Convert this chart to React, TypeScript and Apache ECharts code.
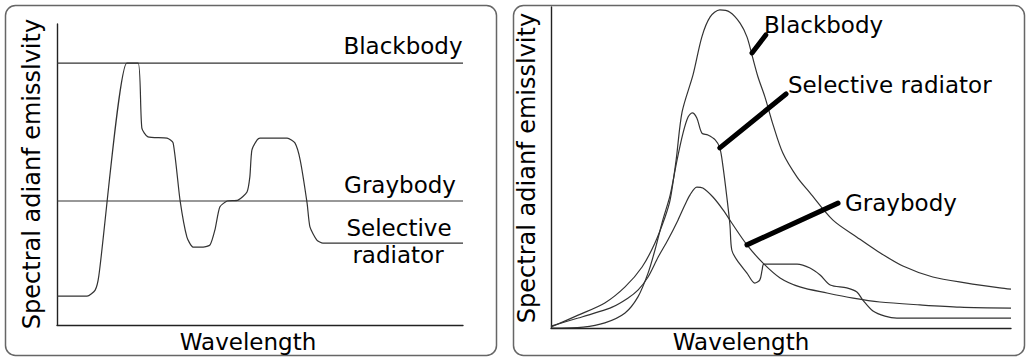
import React, { useEffect, useRef } from "react";
import * as echarts from "echarts";

// ---- Left panel (normalised 0-100 units) ----
const leftBlackbodyY = 87.0;
const leftGraybodyY = 41.2;
const leftSelX = [0, 7.4, 9.4, 10.3, 17.2, 20.0, 20.9, 22.4, 27.1, 28.6, 30.3, 32.0, 33.5, 36.0, 37.7, 38.9, 40.1, 41.9, 44.6, 46.8, 47.5, 48.0, 49.3, 50.0, 56.7, 58.6, 59.9, 61.6, 62.3, 64.0, 65.5, 100];
const leftSelY = [9.6, 9.6, 11.6, 16.3, 87.0, 87.0, 65.4, 62.5, 62.1, 60.5, 41.5, 29.2, 25.9, 25.9, 26.6, 31.6, 39.2, 41.2, 41.5, 44.2, 49.2, 58.1, 61.5, 62.1, 62.1, 60.5, 54.8, 40.5, 32.6, 28.2, 27.2, 27.2];

// ---- Right panel (normalised 0-100 units) ----
const rightBbX = [0, 5.9, 11.7, 16.1, 19.8, 22.6, 24.8, 25.9, 27.2, 28.5, 30.9, 32.8, 34.6, 36.7, 38.9, 41.1, 42.6, 43.7, 45.0, 46.5, 48.3, 50.4, 53.5, 56.3, 61.3, 66.5, 70.9, 76.5, 83.0, 90.4, 97.6, 100];
const rightBbY = [0.3, 4.0, 7.8, 12.8, 19.0, 26.5, 34.6, 39.9, 52.3, 67.3, 79.0, 90.7, 96.9, 99.1, 98.4, 95.0, 90.7, 85.0, 78.2, 72.0, 63.2, 54.5, 47.0, 42.1, 33.6, 28.3, 24.0, 19.3, 15.9, 14.0, 12.5, 12.1];

const rightSelX = [0, 7.0, 11.7, 16.1, 18.9, 21.1, 22.6, 24.3, 25.9, 27.4, 28.7, 29.8, 30.7, 31.7, 32.8, 34.1, 35.7, 36.7, 37.4, 38.3, 38.9, 39.3, 40.4, 42.6, 44.3, 45.4, 45.9, 46.3, 53.5, 56.3, 58.5, 60.7, 64.3, 66.5, 67.8, 70.0, 72.6, 75.2, 100];
const rightSelY = [0, 0.3, 1.6, 4.7, 9.7, 17.1, 24.3, 33.6, 41.4, 52.3, 60.7, 65.7, 67.0, 65.4, 60.7, 60.1, 58.6, 56.1, 50.2, 39.9, 32.1, 24.3, 21.2, 17.1, 14.0, 15.0, 18.1, 19.9, 19.9, 18.7, 16.5, 13.4, 12.5, 11.2, 8.7, 5.3, 3.7, 3.1, 3.1];

const rightGrayX = [0, 5.9, 9.6, 13.3, 16.7, 18.9, 21.1, 23.3, 25.4, 27.6, 29.1, 30.2, 31.7, 33.0, 35.2, 37.4, 39.3, 42.6, 46.1, 49.8, 54.1, 60.0, 65.7, 71.5, 80.2, 88.9, 100];
const rightGrayY = [0.6, 3.1, 4.7, 6.5, 9.3, 11.8, 15.9, 22.1, 27.4, 33.6, 38.3, 41.4, 43.9, 43.6, 40.8, 36.8, 32.7, 25.9, 20.2, 15.6, 12.8, 10.9, 9.3, 8.1, 7.2, 6.5, 6.2];

// leader lines [x1, y1, x2, y2]
const leaderBlackbody = [43.7, 85.7, 46.7, 91.3];
const leaderSelective = [36.7, 56.1, 51.1, 72.9];
const leaderGraybody = [42.6, 25.9, 62.4, 38.9];

const yTitle = "Spectral adianf emisslvity";
const xTitle = "Wavelength";

const zip = (xs: number[], ys: number[]) => xs.map((x, i) => [x, ys[i]]);

const FONT = "DejaVu Sans";
const CURVE = { color: "#333", width: 1.2 };

export default function App() {
  const ref = useRef<HTMLDivElement>(null);
  useEffect(() => {
    if (!ref.current) return;
    const chart = echarts.init(ref.current, null, { renderer: "svg" });
    const axisLine = { show: true, lineStyle: { color: "#222", width: 1.4 } };
    const baseX = (gridIndex: number) => ({
      type: "value", gridIndex, min: 0, max: 100,
      axisLine, axisTick: { show: false }, axisLabel: { show: false }, splitLine: { show: false },
    });
    const baseY = (gridIndex: number) => ({
      type: "value", gridIndex, min: 0, max: 100,
      axisLine, axisTick: { show: false }, axisLabel: { show: false }, splitLine: { show: false },
    });
    const line = (xi: number, data: number[][], smooth: number | boolean, style = CURVE) => ({
      type: "line", xAxisIndex: xi, yAxisIndex: xi, data, smooth,
      showSymbol: false, symbol: "none", silent: true,
      lineStyle: style,
    });
    const leader = (l: number[]) => line(1, [[l[0], l[1]], [l[2], l[3]]], false, { color: "#000", width: 5, cap: "round" } as any);
    const txt = (text: string, x: number, y: number, align: string, size = 23, rot = 0) => ({
      type: "text", x, y, rotation: rot,
      style: { text, fontFamily: FONT, fontSize: size, fill: "#000", align, verticalAlign: "middle" },
    });
    chart.setOption({
      animation: false,
      grid: [
        { left: 57, top: 24, width: 406, height: 301 },
        { left: 551, top: 7, width: 460, height: 321 },
      ],
      xAxis: [baseX(0), baseX(1)],
      yAxis: [baseY(0), baseY(1)],
      series: [
        line(0, [[0, leftBlackbodyY], [100, leftBlackbodyY]], false),
        line(0, [[0, leftGraybodyY], [100, leftGraybodyY]], false),
        line(0, zip(leftSelX, leftSelY), 0.2),
        line(1, zip(rightBbX, rightBbY), 0.3),
        line(1, zip(rightSelX, rightSelY), 0.3),
        line(1, zip(rightGrayX, rightGrayY), 0.3),
        leader(leaderBlackbody),
        leader(leaderSelective),
        leader(leaderGraybody),
      ],
      graphic: [
        { type: "rect", shape: { x: 5.5, y: 5.5, width: 491, height: 350, r: 10 }, style: { fill: "none", stroke: "#666", lineWidth: 1.5 } },
        { type: "rect", shape: { x: 513.5, y: 5.5, width: 511, height: 350, r: 10 }, style: { fill: "none", stroke: "#666", lineWidth: 1.5 } },
        txt("Blackbody", 403, 46, "center"),
        txt("Graybody", 400, 185, "center"),
        txt("Selective", 399, 228, "center"),
        txt("radiator", 398, 255, "center"),
        txt("Blackbody", 764, 25, "left"),
        txt("Selective radiator", 788, 85, "left"),
        txt("Graybody", 845, 203, "left"),
        txt(xTitle, 248, 342, "center"),
        txt(xTitle, 741, 342, "center"),
        txt(yTitle, 32, 174, "center", 24, Math.PI / 2),
        txt(yTitle, 527, 168, "center", 24, Math.PI / 2),
      ],
    });
    return () => chart.dispose();
  }, []);
  return <div ref={ref} style={{ position: "absolute", left: 0, top: 0, width: 1026, height: 357, background: "#fff" }} />;
}
